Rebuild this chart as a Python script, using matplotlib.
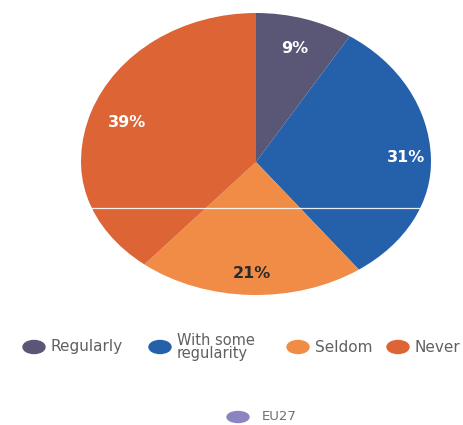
import matplotlib
matplotlib.use('Agg')
from matplotlib import pyplot as plt
from matplotlib.patches import Ellipse, Rectangle
import numpy as np

plt.rcParams['font.family'] = ['DejaVu Sans']

categories = ['Regularly', 'With some\nregularity', 'Seldom', 'Never']
shares = [9, 31, 21, 39]
colors = ['#5a5676', '#2560aa', '#f08c45', '#dc6435']
label_colors = ['white', 'white', '#2a2a2a', 'white']
series_name = 'EU27'
series_color = '#8a84c0'

W, H = 463, 425
fig = plt.figure(figsize=(W / 100, H / 100), dpi=100)

# the pie is drawn in a slight perspective: upper half taller than lower half
cx, cy, rx = 256, 162, 175
ry_top, ry_bottom = 149, 133

def pie_axes(ry, upper):
  ax = fig.add_axes([(cx - rx) / W, 1 - (cy + ry) / H, 2 * rx / W, 2 * ry / H])
  wedges, _ = ax.pie(shares, colors=colors, startangle=90, counterclock=False,
                     radius=1, wedgeprops=dict(linewidth=0))
  if upper:
    clip = Rectangle((-1.2, -0.004), 2.4, 1.3, transform=ax.transData)
  else:
    clip = Rectangle((-1.2, -1.3), 2.4, 1.3, transform=ax.transData)
  for w in wedges:
    w.set_clip_on(True)
    w.set_clip_path(clip)
  ax.set_aspect('auto')
  ax.set_xlim(-1, 1)
  ax.set_ylim(-1, 1)
  ax.axis('off')
  ax.patch.set_alpha(0)
  return ax

ax_lo = pie_axes(ry_bottom, False)
ax_hi = pie_axes(ry_top, True)

# percentage labels inside each wedge
label_r = [0.79, 0.86, 0.835, 0.785]
start = 90
for v, r, c in zip(shares, label_r, label_colors):
  mid = np.deg2rad(start - v * 3.6 / 2)
  start -= v * 3.6
  ax = ax_hi if np.sin(mid) >= 0 else ax_lo
  ax.text(r * np.cos(mid), r * np.sin(mid), '{}%'.format(v), zorder=5,
          ha='center', va='center', fontsize=11.5, fontweight='bold', color=c)

# thin white rule across the lower half
y_rule = -0.346
half = np.sqrt(1 - y_rule ** 2)
ax_lo.plot([-half, half], [y_rule, y_rule], color='white', linewidth=0.9, alpha=0.9, zorder=5)

# legend drawn in pixel coordinates
lax = fig.add_axes([0, 0, 1, 1])
lax.set_xlim(0, W)
lax.set_ylim(H, 0)
lax.axis('off')
lax.patch.set_alpha(0)

marker_x = [34, 160, 298, 398]
text_x = [50, 177, 315, 414]
for mx, tx, lab, c in zip(marker_x, text_x, categories, colors):
  lax.add_patch(Ellipse((mx, 347), 22, 13, color=c))
  lax.text(tx, 347, lab, ha='left', va='center', fontsize=11 if '\n' not in lab else 10.5,
           color='#606060', linespacing=0.85)

lax.add_patch(Ellipse((238, 417), 22, 11, color=series_color))
lax.text(262, 417, series_name, ha='left', va='center', fontsize=9.5, color='#707070')

fig.savefig('out.png', dpi=100)
